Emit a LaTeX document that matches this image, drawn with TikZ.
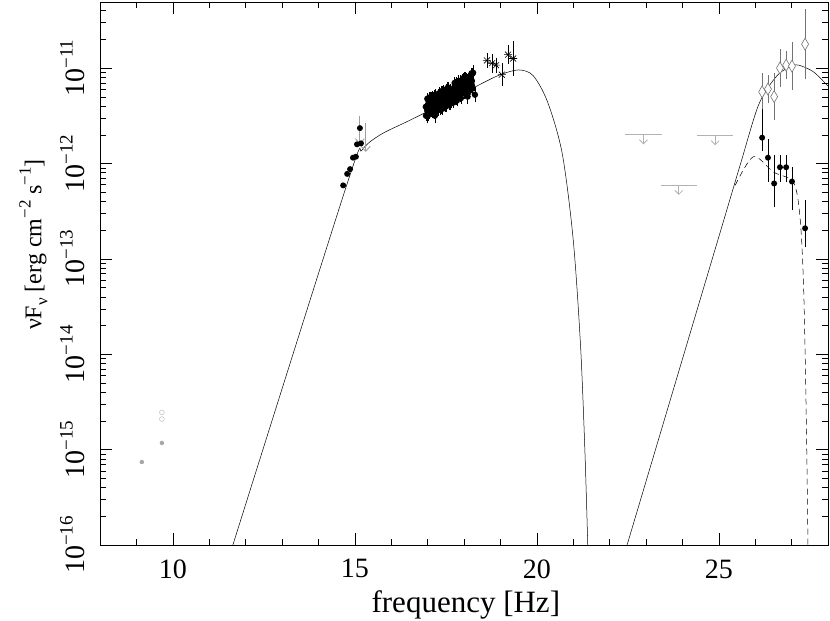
\documentclass[tikz,border=0pt]{standalone}
\usepackage{fontspec}
\setmainfont{Liberation Serif}
\usetikzlibrary{arrows.meta}
\begin{document}
\begin{tikzpicture}[x=36.4pt,y=95.4pt,
  gry/.style={draw=gray!60, line width=0.8pt},
  ebar/.style={line width=0.6pt},
  curve/.style={line width=0.5pt},
  lab/.style={font=\fontsize{28}{32}\selectfont},
  alab/.style={font=\fontsize{31}{34}\selectfont},
  ylabst/.style={font=\fontsize{24}{26}\selectfont}]
\useasboundingbox (5.2527,-16.7862) rectangle (28.0550,-10.2872);
% frame
\draw[line width=0.6pt] (8,-16) rectangle (28,-10.308);
% x ticks
\foreach \x in {9,...,27}{
  \draw[line width=0.4pt] (\x,-16) -- ++(0,6pt);
  \draw[line width=0.4pt] (\x,-10.308) -- ++(0,-6pt);}
\foreach \x in {10,15,20,25}{
  \draw[line width=0.4pt] (\x,-16) -- ++(0,12pt);
  \draw[line width=0.4pt] (\x,-10.308) -- ++(0,-12pt);
  \node[lab] (xl\x) at (\x,-16.25) {\x};}
% y ticks
\foreach \d in {-16,...,-11}{
  \draw[line width=0.4pt] (8,\d) -- ++(12pt,0);
  \draw[line width=0.4pt] (28,\d) -- ++(-12pt,0);
  \node[lab,rotate=90] (yl\d) at (7.24,\d) {10\raisebox{0.42em}{\fontsize{19}{19}\selectfont\pgfmathparse{int(-\d)}−\pgfmathresult}};}
\foreach \d in {-16,...,-11}{
  \foreach \m in {2,...,9}{
    \pgfmathsetmacro\yy{\d+log10(\m)}
    \ifdim \yy pt < -10.308pt
    \draw[line width=0.4pt] (8,\yy) -- ++(6pt,0);
    \draw[line width=0.4pt] (28,\yy) -- ++(-6pt,0);
    \fi}}
% axis labels
\node[alab] (xlab) at (18.05,-16.63) {frequency [Hz]};
\node[ylabst,rotate=90] (ylab) at (6.17,-12.85) {νF\raisebox{-0.25em}{\fontsize{17}{17}\selectfont ν} [erg cm\raisebox{0.45em}{\fontsize{17}{17}\selectfont −2} s\raisebox{0.45em}{\fontsize{17}{17}\selectfont −1}]};
% curves
\draw[curve] plot[smooth,tension=0.5] coordinates {(11.65,-16) (14.8,-12.2) (15.2,-11.86) (15.7,-11.7) (16.5,-11.55) (17.5,-11.36) (18.5,-11.16) (19.0,-11.07) (19.5,-11.02) (19.9,-11.08) (20.3,-11.36) (20.7,-11.9) (21.0,-12.8) (21.2,-13.9) (21.32,-15) (21.4,-16)};
\draw[curve] plot[smooth,tension=0.5] coordinates {(22.48,-16) (25.0,-12.77) (25.6,-12.0) (26.1,-11.38) (26.6,-11.08) (27.0,-10.98) (27.2,-10.97) (27.6,-11.04) (28,-11.19)};
\draw[curve,dashed,dash pattern=on 6pt off 4pt] plot[smooth,tension=0.5] coordinates {(25.45,-12.23) (25.95,-11.93) (26.5,-12.09) (27.05,-12.2) (27.23,-12.56) (27.33,-13.3) (27.4,-14.6) (27.45,-16)};
% radio
\fill[gray!70] (9.15,-15.13) circle (2.2pt) (9.70,-14.93) circle (2.2pt);
\draw[gray!45,line width=0.6pt] (9.70,-14.61) circle (2.4pt) (9.70,-14.68) circle (2.4pt);
% optical points
\draw[gray!75,line width=0.9pt,-{Straight Barb[length=5pt,width=9pt]}] (15.14,-11.50) -- (15.14,-11.80);
\draw[gray!75,line width=0.9pt,-{Straight Barb[length=5pt,width=9pt]}] (15.3,-11.58) -- (15.3,-11.88);
\foreach \x/\y in {14.68/-12.23,14.79/-12.11,14.87/-12.06,14.95/-11.94,15.03/-11.93,15.06/-11.80,15.17/-11.79,15.14/-11.63}{
  \fill (\x,\y) circle (3pt);}
% X-ray blob
\pgfmathsetseed{7}
\foreach \i in {1,...,240}{
  \pgfmathsetmacro\xx{16.95+1.3*rnd}
  \pgfmathsetmacro\yy{-11.43+0.22*(\xx-16.95)+0.1*rand}
  \draw[line width=0.5pt] (\xx,\yy-0.06) -- (\xx,\yy+0.06);
  \fill (\xx,\yy) circle (3.2pt);}
\foreach \x/\y in {18.25/-11.05,18.3/-11.28,18.1/-11.3,18.2/-11.17,17.0/-11.5,17.2/-11.5}{
  \draw[line width=0.5pt] (\x,\y-0.08) -- (\x,\y+0.08);
  \fill (\x,\y) circle (3.2pt);}
% stars
\foreach \x/\y/\e in {18.63/-10.92/0.08,18.77/-10.95/0.1,18.88/-10.97/0.08,19.04/-11.07/0.12,19.21/-10.86/0.1,19.35/-10.9/0.18}{
  \draw[ebar] (\x,\y-\e) -- (\x,\y+\e);
  \draw[line width=0.6pt] (\x,\y) ++(-4pt,0) -- ++(8pt,0)
    (\x,\y) ++(-3pt,-3pt) -- ++(6pt,6pt) (\x,\y) ++(-3pt,3pt) -- ++(6pt,-6pt);}
% upper limits
\foreach \a/\b/\y in {22.42/23.44/-11.70,24.40/25.40/-11.71,23.40/24.40/-12.23}{
  \draw[gry] (\a,\y) -- (\b,\y);
  \draw[gry,-{Straight Barb[length=4pt,width=8pt]}] ({(\a+\b)/2},\y) -- ++(0,-0.1);}
% gamma diamonds
\foreach \x/\y/\e in {26.19/-11.25/0.2,26.35/-11.22/0.15,26.52/-11.30/0.25,26.68/-11.0/0.2,26.85/-10.97/0.15,27.01/-10.98/0.25,27.37/-10.75/0.37}{
  \draw[gray!90!black,line width=0.6pt] (\x,\y-\e) -- (\x,\y+\e);
  \draw[gray!90!black,line width=0.6pt,fill=white] (\x,\y) ++(0,6pt) -- ++(-3.5pt,-6pt) -- ++(3.5pt,-6pt) -- ++(3.5pt,6pt) -- cycle;}
% gamma dots
\foreach \x/\y/\a/\b in {26.19/-11.73/0.14/0.3,26.35/-11.94/0.25/0.2,26.52/-12.21/0.25/0.3,26.68/-12.04/0.15/0.13,26.85/-12.04/0.15/0.13,27.01/-12.19/0.3/0.15,27.37/-12.68/0.2/0.3}{
  \draw[ebar] (\x,\y-\a) -- (\x,\y+\b);
  \fill (\x,\y) circle (3pt);}
\end{tikzpicture}
\end{document}
